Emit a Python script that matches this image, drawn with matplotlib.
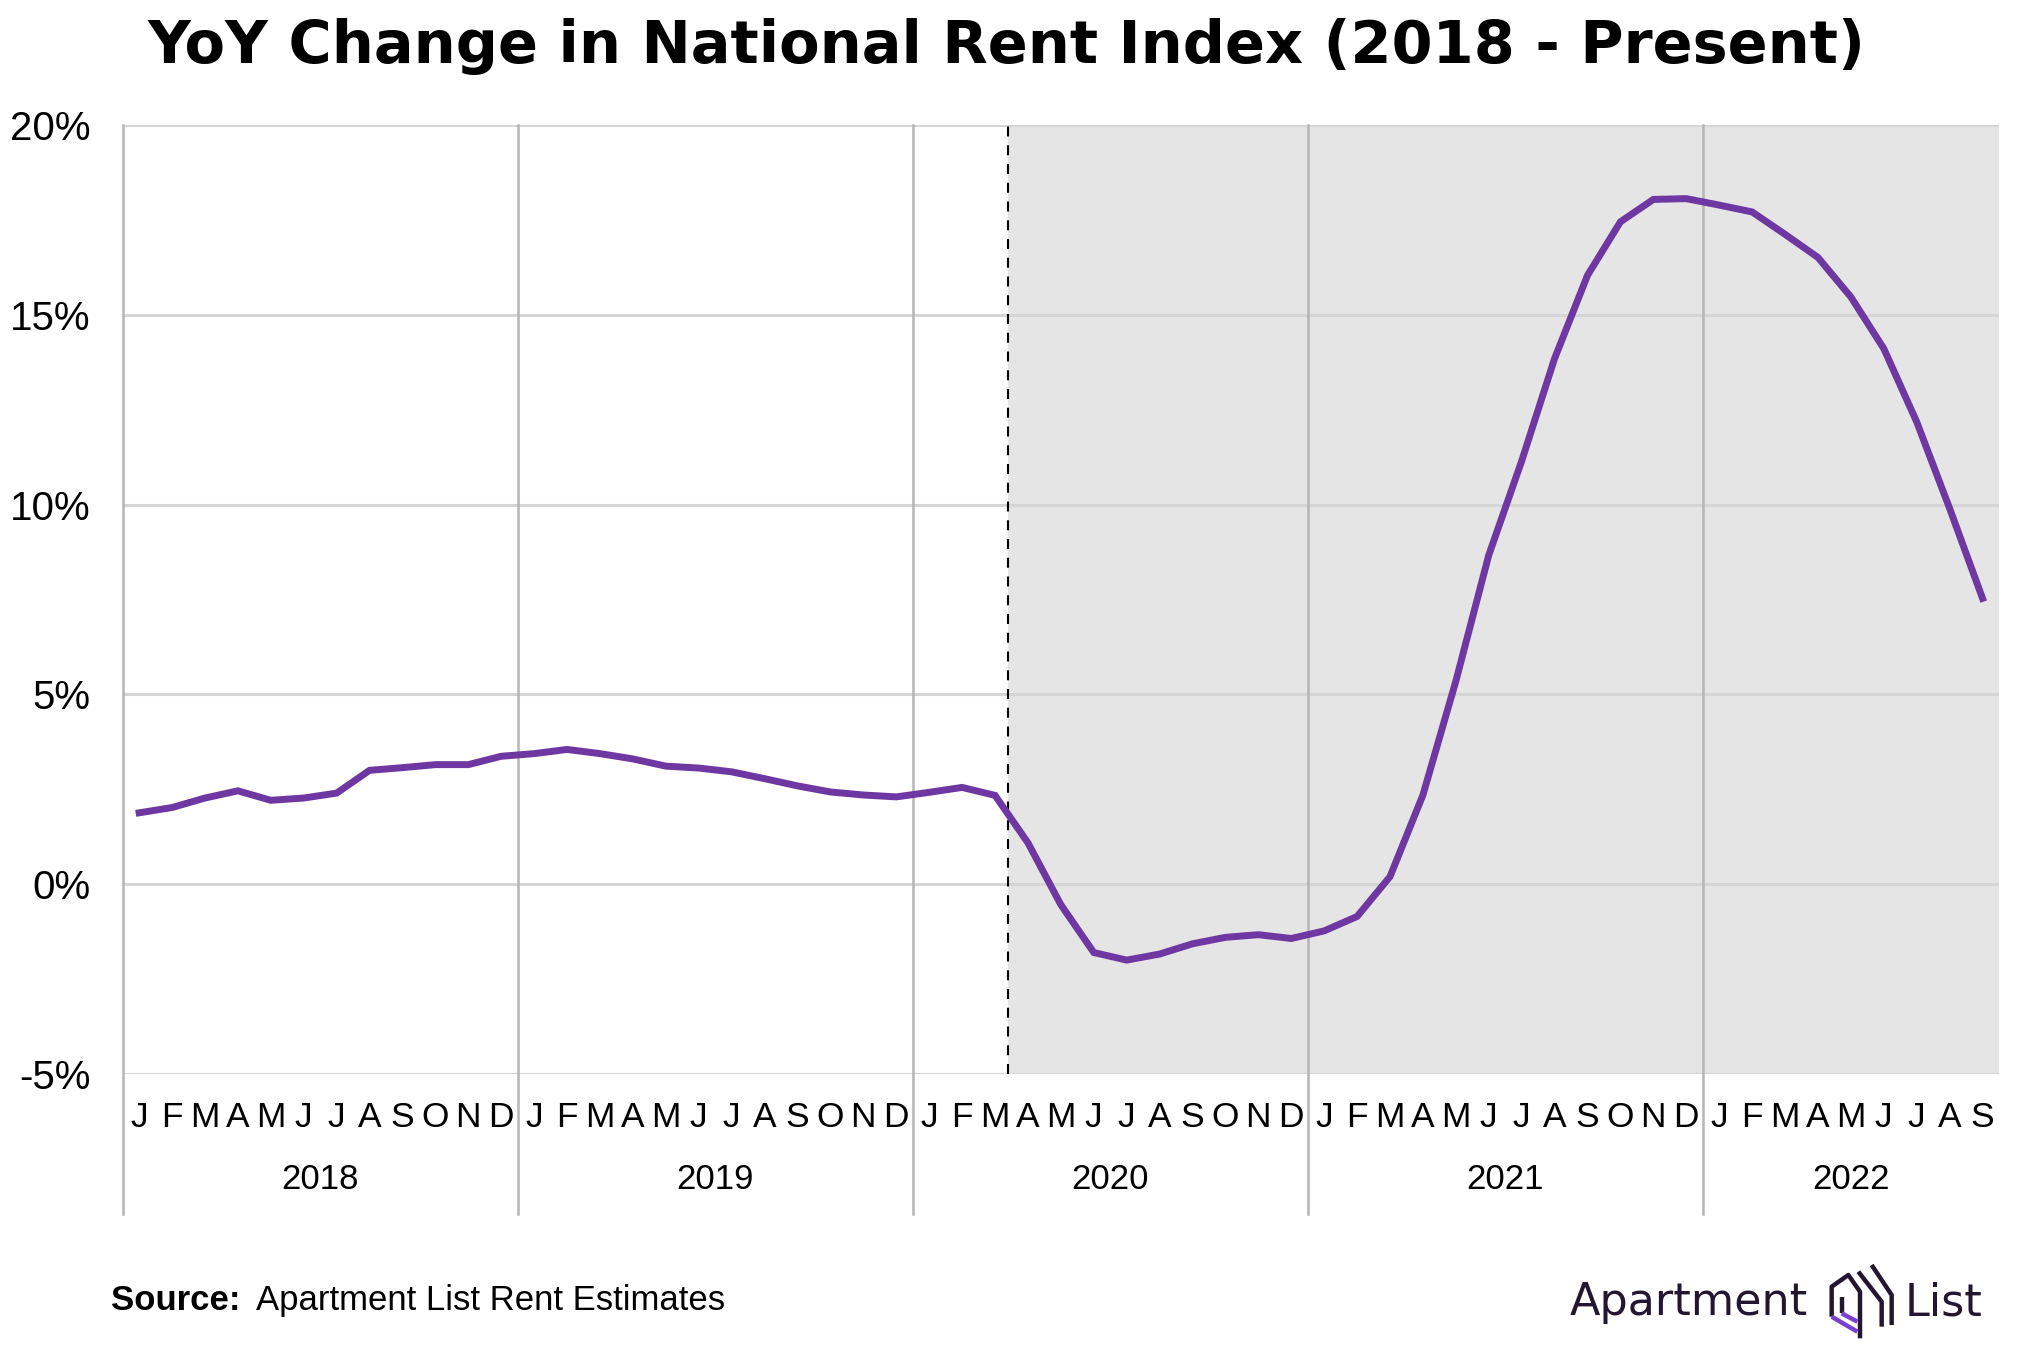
import numpy as np
import matplotlib
matplotlib.use("Agg")
import matplotlib.pyplot as plt
from matplotlib.transforms import blended_transform_factory

# monthly YoY change in the national rent index, Jan 2018 - Sep 2022 (%)
yoy = [1.88, 2.02, 2.27, 2.46, 2.21, 2.27, 2.40, 3.00, 3.07, 3.15, 3.15, 3.37,
       3.44, 3.55, 3.44, 3.30, 3.11, 3.06, 2.96, 2.78, 2.59, 2.43, 2.35, 2.30,
       2.42, 2.55, 2.34, 1.09, -0.54, -1.80, -2.00, -1.84, -1.57, -1.40, -1.33, -1.43,
       -1.23, -0.85, 0.20, 2.35, 5.35, 8.67, 11.15, 13.85, 16.04, 17.45, 18.04, 18.06,
       17.89, 17.71, 17.12, 16.51, 15.47, 14.11, 12.18, 9.90, 7.53]
month_letters = ["J", "F", "M", "A", "M", "J", "J", "A", "S", "O", "N", "D"]
years = ["2018", "2019", "2020", "2021", "2022"]
y_ticks = [-5, 0, 5, 10, 15, 20]
y_labels = ["-5%", "0%", "5%", "10%", "15%", "20%"]
pandemic_start = 26.9   # months since Jan 2018 (mid-March 2020)

LINE = "#6f37a1"
FONT = "Liberation Sans"

W, H = 2026, 1354
fig = plt.figure(figsize=(W / 100, H / 100), dpi=100)
ax = fig.add_axes([122.7 / W, 1 - 1074 / H, (1999 - 122.7) / W, 949 / H])

n = len(yoy)
x = np.arange(n) + 0.5
ax.set_xlim(0, n)
ax.set_ylim(-5, 20)
for s in ax.spines.values():
    s.set_visible(False)
ax.set_xticks([])
ax.set_yticks(y_ticks)
ax.set_yticklabels(y_labels, fontsize=29, family=FONT)
ax.tick_params(axis="y", length=0, pad=23)

# shaded pandemic period
ax.axvspan(pandemic_start, n, color="#e5e5e5", zorder=0, lw=0)
for yv in y_ticks:
    ax.axhline(yv, color="#d5d5d5", lw=2.2, zorder=1)

# year separators (extend below the plot down past the year labels)
trans = blended_transform_factory(ax.transData, ax.transAxes)
for i in range(len(years)):
    ax.plot([12 * i, 12 * i], [1, -0.147], transform=trans, color="#b5b5b5",
            lw=1.8, clip_on=False, zorder=1.5)

ax.axvline(pandemic_start, color="black", lw=1.5, ls=(0, (4.8, 4.2)), zorder=2)
ax.plot(x, yoy, color=LINE, lw=5, solid_joinstyle="miter", zorder=3)

# month and year labels
for i in range(n):
    ax.text(x[i], -0.0455, month_letters[i % 12], transform=trans, ha="center",
            va="center", fontsize=25.5, family=FONT)
for i, yr in enumerate(years):
    start = 12 * i
    end = min(12 * (i + 1), n)
    ax.text((start + end) / 2, -0.111, yr, transform=trans, ha="center",
            va="center", fontsize=25, family=FONT)

fig.text(0.497, 1 - 63 / H, "YoY Change in National Rent Index (2018 - Present)",
         ha="center", va="baseline", fontsize=42.5, fontweight="heavy",
         family="DejaVu Sans")

src = fig.text(111 / W, 1 - 1310 / H, "Source:", ha="left", va="baseline",
               fontsize=25, fontweight="bold", family=FONT)
ax.annotate("Apartment List Rent Estimates", xy=(1, 0), xycoords=src,
            xytext=(11, 0), textcoords="offset points", ha="left", va="bottom",
            fontsize=25, family=FONT, annotation_clip=False)

# logo
LOGO = "#231630"
fig.text(1570 / W, 1 - 1315 / H, "Apartment", ha="left", va="baseline",
         fontsize=32, family="DejaVu Sans", color=LOGO)
fig.text(1905 / W, 1 - 1315 / H, "List", ha="left", va="baseline",
         fontsize=32, family="DejaVu Sans", color=LOGO)
lax = fig.add_axes([0, 0, 1, 1], zorder=5)
lax.set_xlim(0, W)
lax.set_ylim(H, 0)
lax.axis("off")
ox, oy = 1570, 1260
icon_dark = [
    [(785, 170), (785, 80), (835, 45), (870, 95), (870, 235)],
    [(815, 160), (815, 110)],
    [(865, 35), (935, 125), (935, 200)],
    [(905, 15), (965, 105), (965, 195)],
]
icon_purple = [
    [(785, 170), (862, 215)],
    [(815, 160), (862, 185)],
]
for pts, col in [(p, LOGO) for p in icon_dark] + [(p, "#7a3fd0") for p in icon_purple]:
    px = [ox + a / 3 for a, b in pts]
    py = [oy + b / 3 for a, b in pts]
    lax.plot(px, py, color=col, lw=3.2, solid_capstyle="butt")

fig.savefig("out.png", dpi=100)
